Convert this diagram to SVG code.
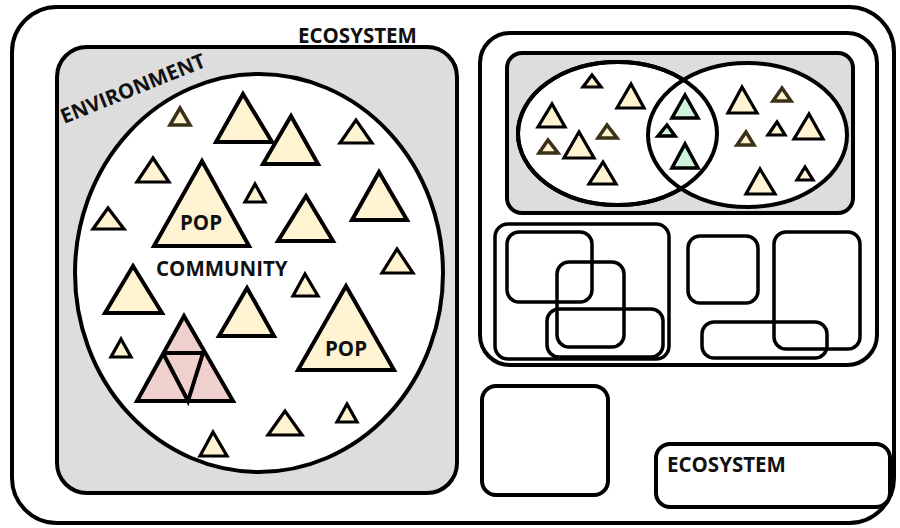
<svg xmlns="http://www.w3.org/2000/svg" width="900" height="528" viewBox="0 0 900 528">
  <style>
    .box { fill: #ffffff; stroke: #000000; stroke-width: 4; }
    .env { fill: #dddddd; stroke: #000000; stroke-width: 4; }
    .rgn { fill: #ffffff; stroke: #000000; stroke-width: 4; }
    .sub { fill: none; stroke: #000000; stroke-width: 3.5; }
    .pop { fill: #fff3d1; stroke: #000000; stroke-width: 4; stroke-linejoin: miter; }
    .popS { fill: #fff3d1; stroke: #000000; stroke-width: 3.2; }
    .brn { fill: #fff3d1; stroke: #3b3018; stroke-width: 3.5; }
    .grn { fill: #cff2dc; stroke: #000000; stroke-width: 3.5; }
    .pnk { fill: #f0d0cc; stroke: #000000; stroke-width: 4; stroke-linejoin: miter; }
    .lbl { font-family: "Open Sans", "DejaVu Sans", sans-serif; font-weight: 700; font-size: 20.5px; fill: #111111; }
  </style>

  <!-- outer ecosystem frame -->
  <g id="ecosystem-outer">
    <rect class="box" x="12" y="7" width="882" height="516" rx="45" ry="45"/>
    <text class="lbl" x="298" y="43">ECOSYSTEM</text>
  </g>

  <!-- environment panel with community -->
  <g id="environment">
    <rect class="env" x="57" y="47" width="400" height="446" rx="30" ry="30"/>
    <text class="lbl" font-size="20px" transform="translate(64,124) rotate(-22)">ENVIRONMENT</text>
  </g>

  <g id="community">
    <ellipse class="rgn" cx="259" cy="273" rx="184" ry="199"/>
    <text class="lbl" x="156" y="276">COMMUNITY</text>
  </g>

  <g id="populations">
    <polygon class="brn" points="170,125 190,125 180,108"/>
    <polygon class="pop" points="216,142 272,142 243,94"/>
    <polygon class="pop" points="263,164 318,164 291,116"/>
    <polygon class="popS" points="340,143 372,143 356,120"/>
    <polygon class="popS" points="137,182 169,182 153,158"/>
    <polygon class="popS" points="245,202 265,202 255,184"/>
    <polygon class="pop" points="278,241 333,241 306,196"/>
    <polygon class="pop" points="352,220 407,220 379,172"/>
    <polygon class="popS" points="93,229 124,229 108,208"/>
    <polygon class="popS" points="382,273 413,273 397,249"/>
    <polygon class="pop" points="105,313 162,313 133,266"/>
    <polygon class="popS" points="293,296 318,296 305,274"/>
    <polygon class="pop" points="219,336 274,336 247,288"/>
    <polygon class="popS" points="111,357 131,357 121,339"/>
    <polygon class="popS" points="268,435 302,435 285,411"/>
    <polygon class="popS" points="337,422 357,422 347,404"/>
    <polygon class="popS" points="200,456 227,456 213,432"/>
  </g>

  <g id="pop-1">
    <polygon class="pop" points="154,246 249,246 202,161"/>
    <text class="lbl" x="180" y="230">POP</text>
  </g>

  <g id="pop-2">
    <polygon class="pop" points="298,370 394,370 346,286"/>
    <text class="lbl" x="325" y="356">POP</text>
  </g>

  <g id="pop-split">
    <polygon class="pnk" points="137,401 233,401 184,316"/>
    <polyline class="pnk" points="163,353 203,353 188,401 163,353"/>
  </g>

  <!-- right-hand ecosystem -->
  <g id="ecosystem-right">
    <rect class="box" x="480" y="33" width="397" height="332" rx="30" ry="30"/>
  </g>

  <g id="environment-right">
    <rect class="env" x="507" y="53" width="346" height="160" rx="15" ry="15"/>
  </g>

  <g id="community-a">
    <ellipse class="rgn" cx="617.5" cy="133.5" rx="99.5" ry="71.5"/>
  </g>
  <g id="community-b">
    <ellipse cx="747.5" cy="135" rx="99.5" ry="72" fill="#ffffff" stroke="#000000" stroke-width="4"/>
  </g>
  <g id="community-overlap">
    <ellipse cx="617.5" cy="133.5" rx="99.5" ry="71.5" fill="none" stroke="#000000" stroke-width="4"/>
  </g>

  <g id="venn-populations">
    <polygon class="popS" points="583,87 601,87 592,75"/>
    <polygon class="popS" points="617,108 644,108 631,84"/>
    <polygon class="popS" points="538,127 565,127 552,104"/>
    <polygon class="brn" points="598,138 617,138 607,125"/>
    <polygon class="brn" points="539,153 558,153 548,140"/>
    <polygon class="popS" points="564,158 594,158 579,132"/>
    <polygon class="popS" points="589,184 616,184 603,162"/>
    <polygon class="grn" points="672,118 698,118 685,95"/>
    <polygon class="grn" points="658,136 675,136 667,125"/>
    <polygon class="grn" points="672,168 698,168 685,144"/>
    <polygon class="popS" points="728,113 757,113 742,87"/>
    <polygon class="brn" points="773,101 791,101 782,88"/>
    <polygon class="brn" points="737,145 754,145 746,132"/>
    <polygon class="popS" points="768,135 785,135 777,122"/>
    <polygon class="popS" points="794,139 823,139 809,114"/>
    <polygon class="popS" points="746,194 775,194 760,169"/>
    <polygon class="popS" points="797,180 813,180 805,167"/>
  </g>

  <g id="habitat-left">
    <rect class="sub" x="495" y="224" width="174" height="135" rx="13" ry="13"/>
    <rect class="sub" x="507" y="232" width="85" height="70" rx="12" ry="12"/>
    <rect class="sub" x="557" y="262" width="67" height="85" rx="12" ry="12"/>
    <rect class="sub" x="547" y="309" width="116" height="48" rx="12" ry="12"/>
  </g>

  <g id="habitat-right">
    <rect class="sub" x="688" y="236" width="70" height="67" rx="12" ry="12"/>
    <rect class="sub" x="774" y="232" width="86" height="117" rx="12" ry="12"/>
    <rect class="sub" x="702" y="322" width="125" height="36" rx="12" ry="12"/>
  </g>

  <g id="ecosystem-empty">
    <rect class="box" x="482" y="386" width="126" height="109" rx="14" ry="14"/>
  </g>

  <g id="ecosystem-labelled">
    <rect class="box" x="656" y="444" width="234" height="63" rx="14" ry="14"/>
    <text class="lbl" x="667" y="472">ECOSYSTEM</text>
  </g>
</svg>
